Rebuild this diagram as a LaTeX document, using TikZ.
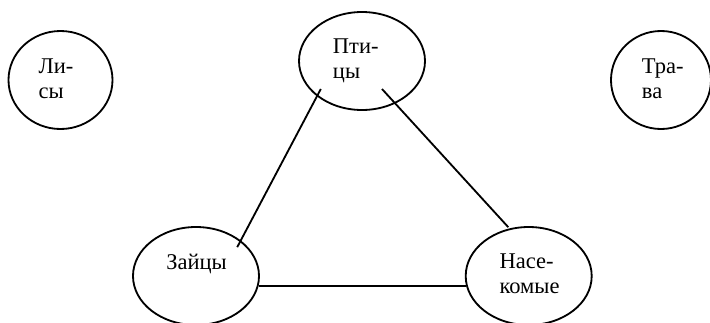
\documentclass[tikz,border=0pt]{standalone}
\usepackage{fontspec}
\setmainfont{Liberation Serif}
\usetikzlibrary{shapes.geometric}
\begin{document}
\begin{tikzpicture}[
		vid/.style={draw, ellipse, line width=1.3pt, minimum height=2.45cm, inner sep=0pt},
		imya/.style={anchor=base west, align=left, inner sep=0pt, font=\fontsize{16}{17.8}\selectfont},
		svyaz/.style={line width=1.3pt}
	]
	\useasboundingbox (0,0) rectangle (17.75,-8.05);
	\node[vid, minimum width=2.6cm] (lisy) at (1.5125,-2) {};
	\node[vid, minimum width=3.15cm] (ptitsy) at (9.05,-1.525) {};
	\node[vid, minimum width=2.5cm] (trava) at (16.525,-2) {};
	\node[vid, minimum width=3.15cm] (zaitsy) at (4.9,-6.9) {};
	\node[vid, minimum width=3.15cm] (nasek) at (13.2175,-6.9) {};
	\node[imya] (lisy-t) at (0.9575,-2.4575) {Ли-\\сы};
	\node[imya] (ptitsy-t) at (8.3175,-1.9575) {Пти-\\цы};
	\node[imya] (trava-t) at (16.0425,-2.4575) {Тра-\\ва};
	\node[imya] (zaitsy-t) at (4.15,-6.7325) {Зайцы};
	\node[imya] (nasek-t) at (12.4825,-7.3325) {Насе-\\комые};
	\draw[svyaz] ([shift={(-1.03,-0.7)}]ptitsy.center) -- ([shift={(1.03,0.72)}]zaitsy.center);
	\draw[svyaz] ([shift={(0.5,-0.7)}]ptitsy.center) -- ([shift={(-0.51,1.22)}]nasek.center);
	\draw[svyaz] (zaitsy.-9) -- (nasek.189);
\end{tikzpicture}
\end{document}
